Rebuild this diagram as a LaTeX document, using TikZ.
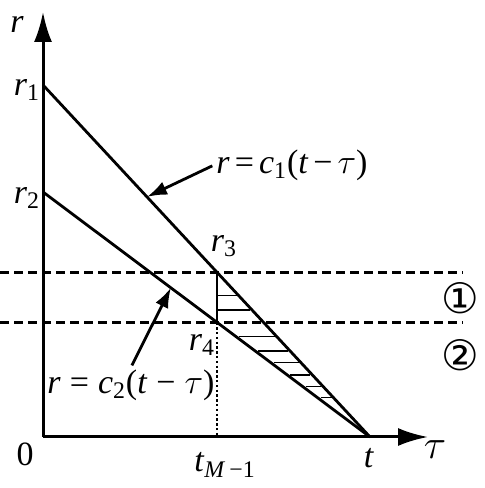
\documentclass[tikz,border=0pt]{standalone}
\usepackage{fontspec}
\setmainfont{Liberation Serif}
\newfontfamily\circfont{DejaVu Sans}
\usetikzlibrary{arrows.meta}
\newcommand\iv[1]{\textit{#1}}
\newcommand\raylab[2]{\iv{r}\hspace{#2}=\hspace{#2}\iv{c}\textsubscript{#1}(\iv{t}\hspace{#2}−\hspace{#2}$\tau$)}

\begin{document}
\begin{tikzpicture}[scale=0.1757,
    every node/.style={font=\fontsize{17}{20}\selectfont, inner sep=1pt},
    axis/.style={line width=1.5pt, -{Latex[length=15pt,width=9pt]}},
    ray/.style={line width=1.4pt},
    level/.style={line width=1.3pt, dash pattern=on 4.5pt off 2.5pt},
    hatch/.style={line width=0.8pt},
    callout/.style={line width=1.4pt, -{Latex[length=10pt,width=7pt]}, shorten <=1pt}]
        \useasboundingbox (-4.3,-5.1) rectangle (44.1,43.7);

        % axes
        \coordinate (O) at (0,0);
        \draw[axis] (O) -- (38.5,0) coordinate (xend);
        \draw[axis] (O) -- (0,42.5) coordinate (yend);

        % points on the axes
        \coordinate (r1) at (0,35.2);
        \coordinate (r2) at (0,24.5);
        \coordinate (t) at (32.7,0);
        \coordinate (tM) at (17.4,0);
        \coordinate (r3) at (17.4,16.47);
        \coordinate (r4) at (17.4,11.46);

        % the two rays
        \draw[ray] (r1) -- (t) coordinate[pos=0.318] (p1);
        \draw[ray] (r2) -- (t) coordinate[pos=0.391] (p2);

        % levels
        \draw[level] (-4.3,16.47) -- (42,16.47);
        \draw[level] (-4.3,11.46) -- (42,11.46);
        \draw[ray] (r3) -- (r4);
        \draw[line width=1.2pt, dash pattern=on 1.2pt off 1.2pt] (r4) -- (tM);

        % hatching
        \foreach \h in {14.13,12.7,10.03,8.6,7.43,6.2,5.03,3.93} {
            \pgfmathsetmacro\xl{max(17.4, 32.7*(1-\h/24.5)+0.3)}
            \pgfmathsetmacro\xr{32.7*(1-\h/35.2)-0.2}
            \draw[hatch] (\xl,\h) -- (\xr,\h);
        }

        % labels
        \node (rlab) at (-2.6,41.2) {\iv{r}};
        \node (r1lab) at (-1.6,34.7) {\iv{r}\textsubscript{1}};
        \node (r2lab) at (-1.6,23.9) {\iv{r}\textsubscript{2}};
        \node (r3lab) at (18.1,19.1) {\iv{r}\textsubscript{3}};
        \node (r4lab) at (15.9,9.2) {\iv{r}\textsubscript{4}};
        \node (olab) at (-1.8,-1.7) {0};
        \node (tMlab) at (18.2,-2.8) {\iv{t}\textsubscript{\iv{M}\,−1}};
        \node (tlab) at (32.6,-2.1) {\iv{t}};
        \node[font=\fontsize{22}{24}\selectfont] (taulab) at (39.2,-1.3) {$\tau$};
        \node[font=\circfont\fontsize{21}{24}\selectfont] (zone1) at (41.7,13.9) {①};
        \node[font=\circfont\fontsize{21}{24}\selectfont] (zone2) at (41.7,8.2) {②};

        \node (lab1) at (24.9,27.2) {\raylab{1}{2.5pt}};
        \node (lab2) at (8.8,5.2) {\raylab{2}{4.5pt}};
        \draw[callout] (lab1.west) -- (p1);
        \draw[callout] (lab2.north) -- (p2);
    \end{tikzpicture}
\end{document}
